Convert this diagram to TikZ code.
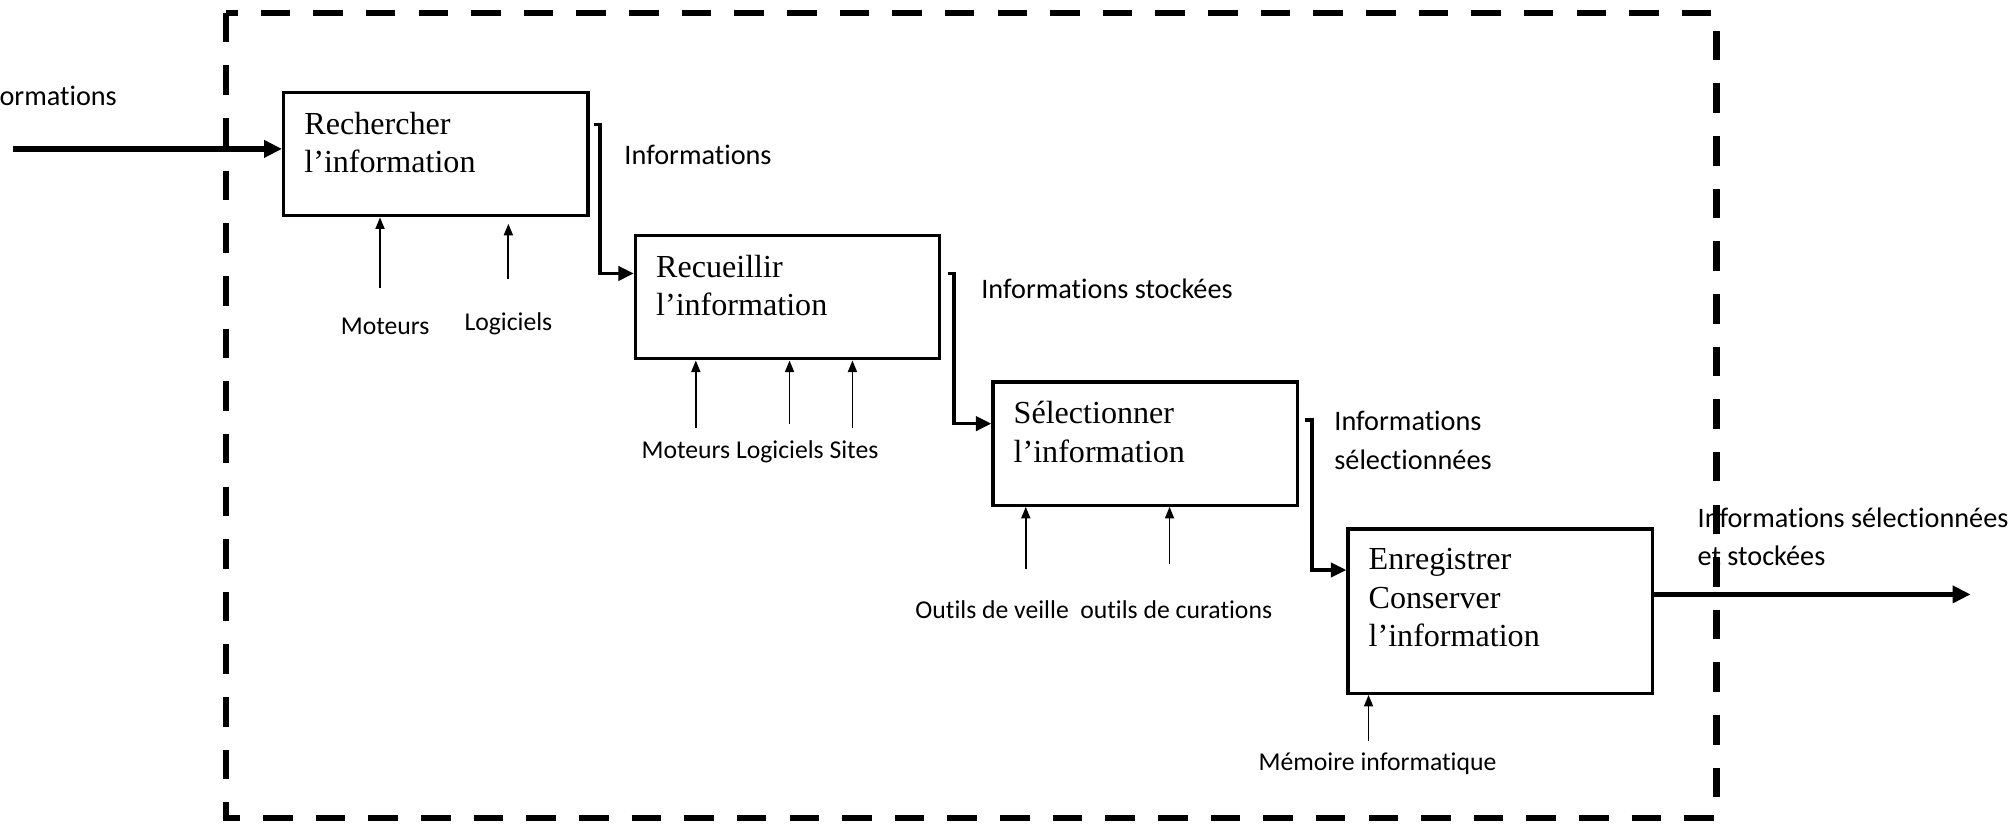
\documentclass[tikz,border=0pt]{standalone}
\usepackage{fontspec}
\setmainfont{Liberation Serif}
\newfontfamily\lblfont[Ligatures=NoCommon]{Carlito}
\usetikzlibrary{arrows.meta}

\begin{document}
\begin{tikzpicture}[x=0.5pt, y=-0.5pt,
  procbox/.style={draw, line width=1.3pt, minimum width=118.5pt, minimum height=48pt, inner sep=0pt},
  boxtext/.style={anchor=north west, align=left, inner xsep=8.5pt, inner ysep=8pt, font=\fontsize{12.5}{15}\selectfont},
  lbl/.style={font=\lblfont\fontsize{11}{15}\selectfont, inner sep=0pt, align=left},
  small/.style={font=\lblfont\fontsize{10}{12}\selectfont},
  flow/.style={line width=1.4pt, -{Triangle[length=6pt, width=5.5pt]}},
  mech/.style={line width=0.7pt, -{Triangle[length=4.5pt, width=3.5pt]}},
  io/.style={line width=2.2pt, -{Triangle[length=7pt, width=6.5pt]}},
  frame/.style={line width=2.4pt, dash pattern=on 11.5pt off 9pt}]

\useasboundingbox (0,0) rectangle (1568,642);
\clip (0,0) rectangle (1568,642);

% System boundary
\draw[frame] (176,10) rectangle (1337,637);

% Process boxes
\node[procbox] (rech) at (339.5,120) {};
\node[boxtext] at (rech.north west) {Rechercher\\l’information};
\node[procbox] (recu) at (613.5,231.5) {};
\node[boxtext] at (recu.north west) {Recueillir\\l’information};
\node[procbox] (sele) at (892,345.5) {};
\node[boxtext] at (sele.north west) {Sélectionner\\l’information};
\node[procbox, minimum height=64pt] (enre) at (1168.5,476) {};
\node[boxtext] at (enre.north west) {Enregistrer\\Conserver\\l’information};

% Input and output
\coordinate (in) at (10,116);
\draw[io] (in) -- (in -| rech.west);
\node[lbl, anchor=west] (inlbl) at (-24,75) {Informations};
\coordinate (out) at (1535,463);
\draw[io] (out -| enre.east) -- (out);
\node[lbl, anchor=west] (outlbl) at (1322,418) {Informations sélectionnées\\et stockées};

% Flow between the steps
\draw[flow] ([xshift=1.5pt,yshift=11.5pt]rech.east) -- ++(2.5pt,0) |- ([yshift=9.25pt]recu.west);
\draw[flow] ([xshift=2.5pt,yshift=9.25pt]recu.east) -- ++(2.5pt,0) |- ([yshift=7.75pt]sele.west);
\draw[flow] ([xshift=2.5pt,yshift=9.25pt]sele.east) -- ++(2.5pt,0) |- ([yshift=16pt]enre.west);
\node[lbl, anchor=west] (f1) at (486,121) {Informations};
\node[lbl, anchor=west] (f2) at (764,225) {Informations stockées};
\node[lbl, anchor=west] (f3) at (1039,343) {Informations\\sélectionnées};

% Means under each step
\coordinate (m1) at (296,224);
\coordinate (m2) at (396,217);
\draw[mech] (m1) -- (m1 |- rech.south);
\draw[mech] (m2) -- ([yshift=-2.5pt]m2 |- rech.south);
\node[lbl, small] (mot1) at (300,254) {Moteurs};
\node[lbl, small] (log1) at (396,252) {Logiciels};

\foreach \x/\y in {542/333, 615/330, 664/333} {
  \coordinate (t) at (\x,\y);
  \draw[mech] (t) -- (t |- recu.south);
}
\node[lbl, small] (mls) at (592,352) {Moteurs Logiciels Sites};

\foreach \x/\y in {799/443, 911/439} {
  \coordinate (t) at (\x,\y);
  \draw[mech] (t) -- (t |- sele.south);
}
\node[lbl, small] (outils) at (852,475) {Outils de veille~ outils de curations};

\coordinate (m9) at (1066,577);
\draw[mech] (m9) -- (m9 |- enre.south);
\node[lbl, small] (mem) at (1073,595) {Mémoire informatique};

\end{tikzpicture}
\end{document}
